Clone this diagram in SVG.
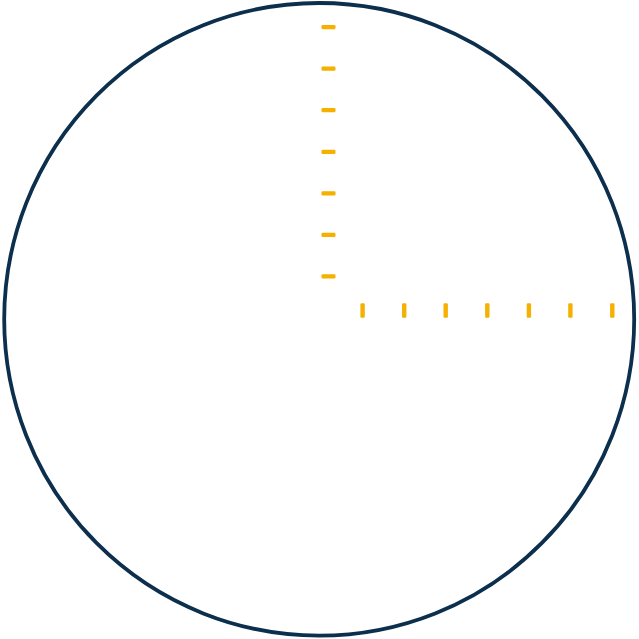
<svg xmlns="http://www.w3.org/2000/svg" width="639" height="639" viewBox="0 0 639 639">
<style>
.ring{fill:none;stroke:#0c2f4d;stroke-width:3.8}
.tk{fill:#f5b000}
</style>
<rect width="639" height="639" fill="#ffffff"/>
<ellipse class="ring" cx="319.2" cy="319.3" rx="315" ry="316.3"/>
<g id="vticks">
<rect class="tk" x="321.5" y="25" width="14" height="4.2" rx="1.2"/>
<rect class="tk" x="321.5" y="66.5" width="14" height="4.2" rx="1.2"/>
<rect class="tk" x="321.5" y="108" width="14" height="4.2" rx="1.2"/>
<rect class="tk" x="321.5" y="149.7" width="14" height="4.2" rx="1.2"/>
<rect class="tk" x="321.5" y="191.2" width="14" height="4.2" rx="1.2"/>
<rect class="tk" x="321.5" y="232.8" width="14" height="4.2" rx="1.2"/>
<rect class="tk" x="321.5" y="274.2" width="14" height="4.2" rx="1.2"/>
</g>
<g id="hticks">
<rect class="tk" x="360.4" y="303.3" width="4.4" height="14.5" rx="1.2"/>
<rect class="tk" x="402" y="303.3" width="4.4" height="14.5" rx="1.2"/>
<rect class="tk" x="443.5" y="303.3" width="4.4" height="14.5" rx="1.2"/>
<rect class="tk" x="485.1" y="303.3" width="4.4" height="14.5" rx="1.2"/>
<rect class="tk" x="526.7" y="303.3" width="4.4" height="14.5" rx="1.2"/>
<rect class="tk" x="568.2" y="303.3" width="4.4" height="14.5" rx="1.2"/>
<rect class="tk" x="610.1" y="303.3" width="4.4" height="14.5" rx="1.2"/>
</g>
</svg>
